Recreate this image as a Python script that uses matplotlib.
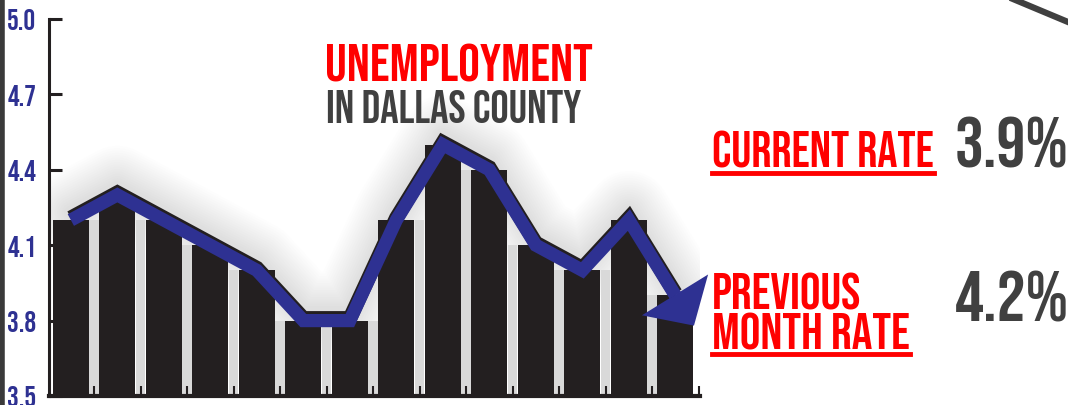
import matplotlib
matplotlib.use("Agg")
import matplotlib.pyplot as plt
import matplotlib.patheffects as pe
from matplotlib import font_manager
from matplotlib.lines import Line2D
import numpy as np

# monthly unemployment rate, Dallas County (%)
rates = [4.2, 4.3, 4.2, 4.1, 4.0, 3.8, 3.8, 4.2, 4.5, 4.4, 4.1, 4.0, 4.2, 3.9]
yticks = [3.5, 3.8, 4.1, 4.4, 4.7, 5.0]
current_rate = "3.9%"
previous_rate = "4.2%"

installed = {f.name for f in font_manager.fontManager.ttflist}
font = next((f for f in ["Bebas Neue", "Oswald", "Roboto Condensed"] if f in installed), "DejaVu Sans")

RED = "#ff0000"
GREY = "#404040"
BLUE = "#2e3192"
BLACK = "#231f20"

W, H = 1068, 406
fig = plt.figure(figsize=(W / 100, H / 100), dpi=100)
ax = fig.add_axes([49 / W, 1 - 397 / H, (700 - 49) / W, (397 - 20) / H])

x = np.arange(len(rates))
v = np.array(rates)
bw = 0.774

# soft glow behind the chart
for lw_ in np.linspace(60, 10, 16):
    ax.plot(x, v + 0.03, color="#808080", lw=lw_, alpha=0.012, solid_capstyle="round",
            solid_joinstyle="round", zorder=0.5)

# light grey strips between the bars
gaps = np.minimum(v[:-1], v[1:])
ax.bar(x[:-1] + 0.5, gaps - 3.5, bottom=3.5, width=0.2, color="#d9d9d9", zorder=1)
ax.bar(x, v - 3.5, bottom=3.5, width=bw, color=BLACK, zorder=2)

# trend line with arrow
ax.plot(x, v, color=BLUE, lw=9.5, solid_joinstyle="miter", solid_capstyle="butt", zorder=4,
        path_effects=[pe.Stroke(linewidth=10.5, foreground=BLACK, offset=(0, 1.6)), pe.Normal()])
tip = (x[-1] + 0.4, v[-1] + 0.4 * (v[-1] - v[-2]))
ax.annotate("", xy=tip, xytext=(x[-1], v[-1]), zorder=5,
            arrowprops=dict(arrowstyle="-|>,head_length=1.3,head_width=1.4", mutation_scale=20,
                            color=BLUE, lw=0, shrinkA=0, shrinkB=0))

ax.set_xlim(-0.47, 13.53)
ax.set_ylim(3.5, 5.0)
ax.set_yticks(yticks)
ax.set_yticklabels([f"{t:.1f}" for t in yticks])
ax.set_xticks(x + 0.5)
ax.set_xticklabels([])
ax.tick_params(axis="y", direction="in", length=9.5, width=2.2, color=BLACK, pad=9,
               labelcolor=BLUE, labelsize=21)
ax.tick_params(axis="x", direction="in", length=7, width=1.5, color=BLACK)
for lab in ax.get_yticklabels():
    lab.set_fontfamily(font)
for s in ["top", "right"]:
    ax.spines[s].set_visible(False)
ax.spines["left"].set_linewidth(2.2)
ax.spines["left"].set_color(BLACK)
ax.spines["bottom"].set_linewidth(3)
ax.spines["bottom"].set_color(BLACK)
ax.patch.set_alpha(0)

# titles
def ft(px, py, s, **kw):
    return fig.text(px / W, 1 - py / H, s, family=font, va="baseline", ha="left", **kw)

ft(325, 82, "UNEMPLOYMENT", color=RED, fontsize=39)
ft(326, 123, "IN DALLAS COUNTY", color=GREY, fontsize=33)
t1 = ft(712, 168, "CURRENT RATE", color=RED, fontsize=36)
ft(955, 168, current_rate, color=GREY, fontsize=52)
ft(712, 310, "PREVIOUS", color=RED, fontsize=37)
t2 = ft(712, 350, "MONTH RATE", color=RED, fontsize=37)
ft(955, 322, previous_rate, color=GREY, fontsize=52)

# underlines
fig.canvas.draw()
r = fig.canvas.get_renderer()
for t, py in [(t1, 174), (t2, 355)]:
    bb = t.get_window_extent(r)
    fig.add_artist(Line2D([bb.x0 / W, bb.x1 / W], [1 - py / H] * 2, color=RED, lw=3.5,
                          transform=fig.transFigure))

# decoration: left border and top-right stroke
fig.add_artist(Line2D([0.002, 0.002], [0, 1], color="#3a3a3a", lw=4, transform=fig.transFigure))
fig.add_artist(Line2D([1013 / W, 1], [1, 1 - 23 / H], color=GREY, lw=4.5, transform=fig.transFigure))

fig.savefig("out.png", dpi=100)
